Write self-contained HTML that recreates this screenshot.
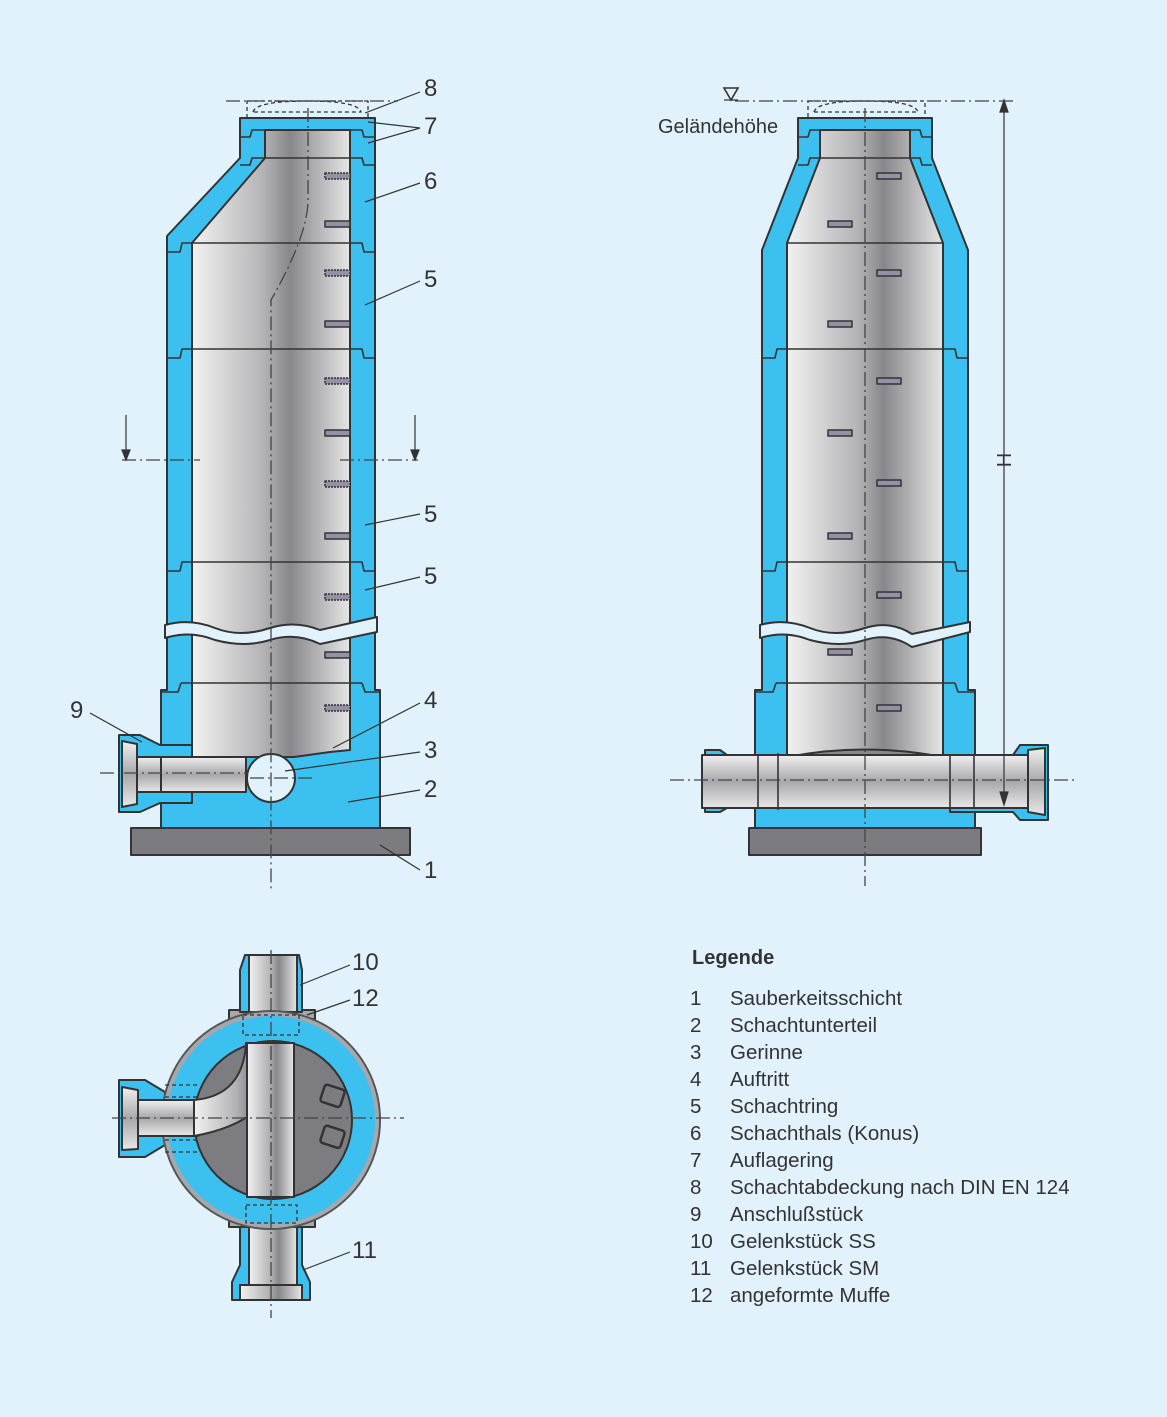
<!DOCTYPE html>
<html><head><meta charset="utf-8"><style>
body{margin:0;background:#e1f2fc}
svg{display:block}
text{font-family:"Liberation Sans",sans-serif;fill:#333}
</style></head><body>
<svg width="1167" height="1417" viewBox="0 0 1167 1417" xmlns="http://www.w3.org/2000/svg">
<defs>
<linearGradient id="g" x1="0" x2="1" y1="0" y2="0">
<stop offset="0" stop-color="#f2f2f2"/><stop offset="0.45" stop-color="#b4b4b6"/><stop offset="0.62" stop-color="#88888c"/><stop offset="1" stop-color="#e6e6e6"/></linearGradient>
<linearGradient id="gv" x1="0" x2="0" y1="0" y2="1">
<stop offset="0" stop-color="#f0f0f0"/><stop offset="0.5" stop-color="#a8a8ac"/><stop offset="1" stop-color="#e8e8e8"/></linearGradient>
</defs>
<rect width="1167" height="1417" fill="#e1f2fc"/>
<g stroke="#333" stroke-width="2" stroke-linejoin="round">
<!-- LEFT VIEW -->
<rect x="131" y="828" width="279" height="27" fill="#7c7c80"/>
<polygon points="240,118 375,118 375,690 380,690 380,828 161,828 161,690 167,690 167,236 240,158" fill="#3cc0ef"/>
<polygon points="265,130 350,130 350,750 330,752 294,757 192,757 192,243 265,158" fill="url(#g)"/>
<g fill="none" stroke-width="1.6">
<line x1="265" y1="130" x2="350" y2="130"/><line x1="265" y1="158" x2="350" y2="158"/>
<line x1="192" y1="243" x2="350" y2="243"/><line x1="192" y1="349" x2="350" y2="349"/>
<line x1="192" y1="562" x2="350" y2="562"/><line x1="181" y1="683" x2="362" y2="683"/>
<path d="M167,252 H180 L182,243 H192 M350,243 H362 L364,252 H375"/>
<path d="M167,358 H180 L182,349 H192 M350,349 H362 L364,358 H375"/>
<path d="M167,571 H180 L182,562 H192 M350,562 H362 L364,571 H375"/>
<path d="M161,692 H178 L181,683 M362,683 L365,692 H380"/>
<path d="M240,137 H250 L252,130 H265 M350,130 H362 L364,137 H375"/>
<path d="M240,165 H250 L252,158 H265 M350,158 H362 L364,165 H375"/>
<line x1="375" y1="118" x2="375" y2="690"/>
</g>
<path d="M165,625 Q190,618 215,628 T270,628 Q295,620 320,630 L377,617 L377,632 L320,644 Q295,632 270,640 T215,640 Q190,630 165,638 Z" fill="#e1f2fc"/>
<circle cx="271" cy="778" r="24" fill="#e1f2fc"/>
<rect x="137" y="757" width="109" height="35" fill="url(#gv)"/>
<path d="M119,735 H140 L160,745 H192 V757 H160 V792 H192 V803 H160 L140,812 H119 Z" fill="#3cc0ef"/>
<path d="M122,741 L137,744 V804 L122,807 Z" fill="url(#gv)"/>
<rect x="137" y="757" width="24" height="35" fill="url(#gv)"/>
<g fill="#9590a6" stroke-width="1.5">
<rect x="325" y="173" width="25" height="6" stroke-dasharray="2 1"/><rect x="325" y="221" width="25" height="6"/>
<rect x="325" y="270" width="25" height="6" stroke-dasharray="2 1"/><rect x="325" y="321" width="25" height="6"/>
<rect x="325" y="378" width="25" height="6" stroke-dasharray="2 1"/><rect x="325" y="430" width="25" height="6"/>
<rect x="325" y="481" width="25" height="6" stroke-dasharray="2 1"/><rect x="325" y="533" width="25" height="6"/>
<rect x="325" y="594" width="25" height="6" stroke-dasharray="2 1"/><rect x="325" y="652" width="25" height="6"/>
<rect x="325" y="705" width="25" height="6" stroke-dasharray="2 1"/>
</g>
<g fill="none" stroke-width="1.3" stroke-dasharray="4 3">
<rect x="247" y="101" width="121" height="17"/>
<path d="M253,112 Q256,101 308,101 Q358,101 361,112 Z"/>
</g>
<!-- RIGHT VIEW -->
<rect x="749" y="828" width="232" height="27" fill="#7c7c80"/>
<polygon points="798,118 932,118 932,158 968,250 968,690 975,690 975,828 755,828 755,690 762,690 762,250 798,158" fill="#3cc0ef"/>
<polygon points="820,130 910,130 910,158 943,243 943,757 787,757 787,243 820,158" fill="url(#g)"/>
<g fill="none" stroke-width="1.6">
<line x1="820" y1="130" x2="910" y2="130"/><line x1="820" y1="158" x2="910" y2="158"/>
<line x1="787" y1="243" x2="943" y2="243"/><line x1="787" y1="349" x2="943" y2="349"/>
<line x1="787" y1="562" x2="943" y2="562"/><line x1="776" y1="683" x2="955" y2="683"/>
<path d="M762,358 H775 L777,349 H787 M943,349 H955 L957,358 H968"/>
<path d="M762,571 H775 L777,562 H787 M943,562 H955 L957,571 H968"/>
<path d="M755,692 H773 L776,683 M955,683 L958,692 H975"/>
<path d="M798,137 H808 L810,130 H820 M910,130 H920 L922,137 H932"/>
<path d="M798,165 H808 L810,158 H820 M910,158 H920 L922,165 H932"/>
</g>
<path d="M760,625 Q785,618 810,628 T865,628 Q890,620 912,634 L970,622 L970,632 L912,647 Q890,632 865,640 T810,640 Q785,630 760,638 Z" fill="#e1f2fc"/>
<path d="M787,757 Q865,742 943,757" fill="#88888c"/>
<path d="M705,750 H720 L727,755 H760 V808 H727 L720,812 H705 Z" fill="#3cc0ef"/>
<path d="M950,755 L1013,755 L1020,745 H1048 V820 H1020 L1013,812 H950 Z" fill="#3cc0ef"/>
<rect x="702" y="755" width="334" height="53" fill="url(#gv)"/>
<path d="M1028,750 L1045,748 V815 L1028,812 Z" fill="url(#gv)"/>
<g fill="none" stroke-width="1.6"><line x1="758" y1="755" x2="758" y2="808"/><line x1="778" y1="753" x2="778" y2="810"/><line x1="950" y1="755" x2="950" y2="808"/><line x1="974" y1="755" x2="974" y2="808"/></g>
<g fill="#9590a6" stroke-width="1.5">
<rect x="877" y="173" width="24" height="6"/><rect x="828" y="221" width="24" height="6"/>
<rect x="877" y="270" width="24" height="6"/><rect x="828" y="321" width="24" height="6"/>
<rect x="877" y="378" width="24" height="6"/><rect x="828" y="430" width="24" height="6"/>
<rect x="877" y="480" width="24" height="6"/><rect x="828" y="533" width="24" height="6"/>
<rect x="877" y="592" width="24" height="6"/><rect x="828" y="649" width="24" height="6"/>
<rect x="877" y="705" width="24" height="6"/>
</g>
<g fill="none" stroke-width="1.3" stroke-dasharray="4 3">
<rect x="808" y="101" width="117" height="17"/>
<path d="M814,112 Q817,101 865,101 Q915,101 918,112 Z"/>
</g>
<!-- PLAN VIEW -->
<rect x="229" y="1010" width="86" height="9" fill="#a8a8ac"/>
<rect x="229" y="1218" width="86" height="9" fill="#a8a8ac"/>
<path d="M245,955 H299 L302,970 V1012 H240 V970 Z" fill="#3cc0ef"/>
<rect x="249" y="955" width="48" height="57" fill="url(#g)"/>
<path d="M240,1227 H302 V1265 L310,1282 V1300 H232 V1282 L240,1265 Z" fill="#3cc0ef"/>
<rect x="249" y="1227" width="48" height="60" fill="url(#g)"/>
<rect x="240" y="1285" width="62" height="15" fill="url(#g)"/>
<path d="M119,1080 H145 L165,1092 V1145 L145,1157 H119 Z" fill="#3cc0ef"/>
<path d="M122,1087 L138,1090 V1149 L122,1150 Z" fill="url(#gv)"/>
<circle cx="271" cy="1120" r="109" fill="#3cc0ef" stroke="#555" stroke-width="2"/>
<circle cx="271" cy="1120" r="106" fill="none" stroke="#a8a8ac" stroke-width="4"/>
<circle cx="273" cy="1120" r="79" fill="#7d7d81"/>
<rect x="138" y="1100" width="60" height="36" fill="url(#gv)"/>
<path d="M194,1100 Q243,1096 246,1043 H286 Q285,1120 194,1136 Z" fill="url(#g)"/>
<rect x="247" y="1043" width="47" height="154" fill="url(#g)"/>
<rect x="322" y="1087" width="21" height="18" rx="3" fill="none" stroke="#333" stroke-width="2.5" transform="rotate(18 333 1096)"/>
<rect x="322" y="1128" width="21" height="18" rx="3" fill="none" stroke="#333" stroke-width="2.5" transform="rotate(18 333 1137)"/>
<g fill="none" stroke-width="1.3" stroke-dasharray="4 3">
<rect x="243" y="1015" width="56" height="20"/><rect x="246" y="1205" width="51" height="18"/>
<path d="M165,1085 H198 M165,1097 H198 M165,1140 H198 M165,1152 H198"/>
</g>
</g>
<!-- center lines -->
<g stroke="#444" stroke-width="1.3" fill="none" stroke-dasharray="14 4 2 4">
<path d="M226,101 H398"/>
<path d="M308,108 V200 Q308,235 271,300 V892"/>
<path d="M100,773 H247 M250,778 H312"/>
<path d="M122,460 H200 M340,460 H418"/>
<path d="M735,101 H1017"/>
<path d="M865,108 V886"/>
<path d="M670,780 H1075"/>
<path d="M271,950 V1318"/>
<path d="M112,1118 H404"/>
</g>
<g stroke="#333" stroke-width="1.2" fill="#333">
<line x1="126" y1="415" x2="126" y2="452"/><path d="M122,450 L126,460 L130,450 Z"/>
<line x1="415" y1="415" x2="415" y2="452"/><path d="M411,450 L415,460 L419,450 Z"/>
<line x1="1004" y1="100" x2="1004" y2="800"/>
<path d="M1000,112 L1004,100 L1008,112 Z"/><path d="M1000,792 L1004,805 L1008,792 Z"/>
<path d="M724,88 H738 L731,100 Z" fill="none" stroke-width="1.6"/>
<line x1="724" y1="100" x2="738" y2="100"/>
</g>
<!-- leaders -->
<g stroke="#333" stroke-width="1.2">
<line x1="420" y1="92" x2="365" y2="113"/>
<line x1="420" y1="128" x2="368" y2="122"/><line x1="420" y1="128" x2="368" y2="143"/>
<line x1="420" y1="183" x2="365" y2="202"/>
<line x1="420" y1="281" x2="365" y2="305"/>
<line x1="420" y1="514" x2="365" y2="525"/>
<line x1="420" y1="577" x2="365" y2="590"/>
<line x1="420" y1="703" x2="333" y2="748"/>
<line x1="420" y1="752" x2="285" y2="771"/>
<line x1="420" y1="790" x2="348" y2="802"/>
<line x1="420" y1="870" x2="380" y2="845"/>
<line x1="90" y1="713" x2="142" y2="742"/>
<line x1="350" y1="965" x2="300" y2="985"/>
<line x1="350" y1="1000" x2="307" y2="1015"/>
<line x1="350" y1="1252" x2="303" y2="1270"/>
</g>
<g font-size="24">
<text x="424" y="96">8</text><text x="424" y="134">7</text><text x="424" y="189">6</text>
<text x="424" y="287">5</text><text x="424" y="522">5</text><text x="424" y="584">5</text>
<text x="424" y="708">4</text><text x="424" y="758">3</text><text x="424" y="797">2</text>
<text x="424" y="878">1</text><text x="70" y="718">9</text>
<text x="352" y="970">10</text><text x="352" y="1006">12</text><text x="352" y="1258">11</text>
</g>
<text x="658" y="133" font-size="20">Geländehöhe</text>
<text x="1011" y="460" font-size="20" transform="rotate(-90 1011 460)" text-anchor="middle">H</text>
<text x="692" y="964" font-size="20" font-weight="bold">Legende</text>
<g font-size="20.5">
<text x="690" y="1005">1</text><text x="730" y="1005">Sauberkeitsschicht</text>
<text x="690" y="1032">2</text><text x="730" y="1032">Schachtunterteil</text>
<text x="690" y="1059">3</text><text x="730" y="1059">Gerinne</text>
<text x="690" y="1086">4</text><text x="730" y="1086">Auftritt</text>
<text x="690" y="1113">5</text><text x="730" y="1113">Schachtring</text>
<text x="690" y="1140">6</text><text x="730" y="1140">Schachthals (Konus)</text>
<text x="690" y="1167">7</text><text x="730" y="1167">Auflagering</text>
<text x="690" y="1194">8</text><text x="730" y="1194">Schachtabdeckung nach DIN EN 124</text>
<text x="690" y="1221">9</text><text x="730" y="1221">Anschlußstück</text>
<text x="690" y="1248">10</text><text x="730" y="1248">Gelenkstück SS</text>
<text x="690" y="1275">11</text><text x="730" y="1275">Gelenkstück SM</text>
<text x="690" y="1302">12</text><text x="730" y="1302">angeformte Muffe</text>
</g>
</svg>
</body></html>
